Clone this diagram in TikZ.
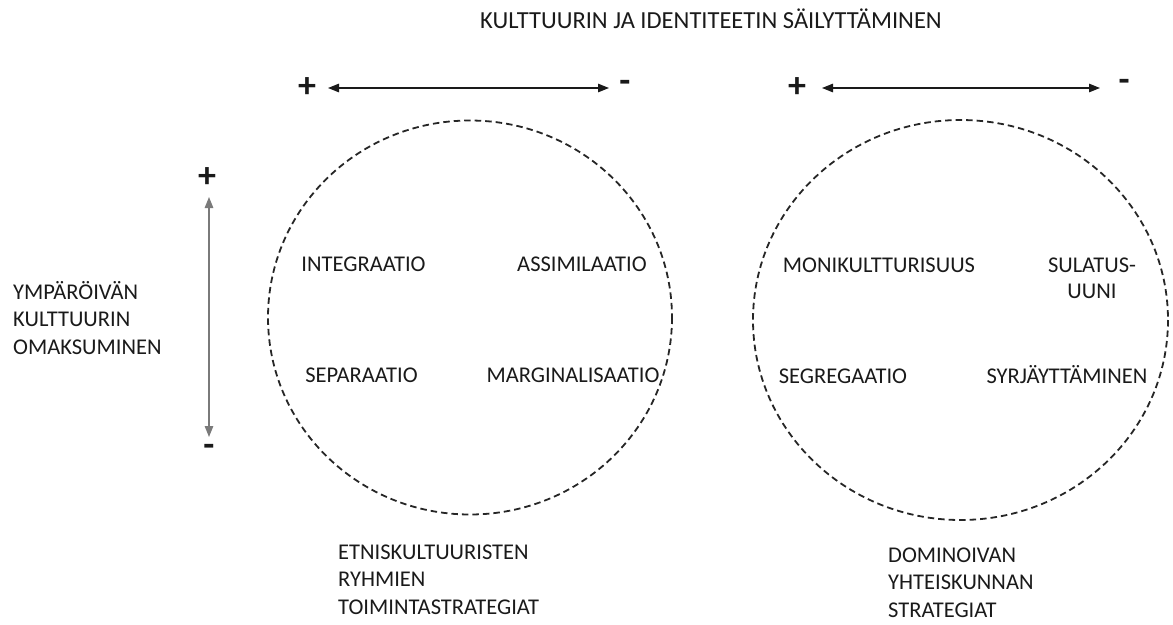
\documentclass[tikz,border=0pt]{standalone}
\usepackage{fontspec}
\setmainfont{Carlito}
\usepackage{tikz}
\usetikzlibrary{arrows.meta}
\definecolor{ink}{HTML}{1A1A1A}
\definecolor{rim}{HTML}{262626}
\definecolor{shaft}{HTML}{7A7A7A}
\tikzset{
  ring/.style={draw=rim, line width=1.8pt, dash pattern=on 6.5pt off 4pt},
  arr/.style={draw=ink, line width=1.2pt, {Triangle[length=11pt,width=8.5pt]}-{Triangle[length=11pt,width=8.5pt]}},
  lab/.style={text=ink, inner sep=0pt, font=\fontsize{22.5}{27.5}\selectfont},
  labl/.style={lab, align=left, anchor=base west},
  labc/.style={lab, anchor=base},
  sgn/.style={text=ink, inner sep=0pt, font=\fontsize{36}{36}\selectfont\bfseries},
  ttl/.style={text=ink, inner sep=0pt, anchor=base, font=\fontsize{24.5}{28}\selectfont},
}
\begin{document}
\begin{tikzpicture}[x=1pt,y=-1pt]
  \useasboundingbox (0,0) rectangle (1173,624);
  % two groups
  \coordinate (C1) at (470,317.5);
  \coordinate (C2) at (960.5,320);
  \draw[ring] (C1) ellipse [x radius=202, y radius=197];
  \draw[ring] (C2) ellipse [x radius=207.5, y radius=200];
  \node[ttl] (title) at (711,28) {KULTTUURIN JA IDENTITEETIN SÄILYTTÄMINEN};
  % scales
  \node[sgn] (plusA) at (307,88) {+};
  \node[sgn] (minusA) at (625,86) {-};
  \node[sgn] (plusB) at (797,88) {+};
  \node[sgn] (minusB) at (1124,85) {-};
  \node[sgn] (plusC) at (207,178) {+};
  \node[sgn] (minusC) at (209,450) {-};
  \coordinate (a1) at (328,88);
  \coordinate (a2) at (609,88);
  \coordinate (b1) at (822,88);
  \coordinate (b2) at (1100,88);
  \coordinate (c1) at (209,197);
  \coordinate (c2) at (209,437);
  \draw[arr] (a1) -- (a2);
  \draw[arr] (b1) -- (b2);
  \draw[arr, draw=shaft, fill=ink] (c1) -- (c2);
  \node[labl] (side) at (13,354) {YMPÄRÖIVÄN\\KULTTUURIN\\OMAKSUMINEN};
  % left circle
  \node[labc] (integ) at (363.5,271.5) {INTEGRAATIO};
  \node[labc] (assim) at (582,271.5) {ASSIMILAATIO};
  \node[labc] (separ) at (361.5,382.5) {SEPARAATIO};
  \node[labc] (margi) at (573,382.5) {MARGINALISAATIO};
  \node[labl] (etno) at (338,614) {ETNISKULTUURISTEN\\RYHMIEN\\TOIMINTASTRATEGIAT};
  % right circle
  \node[labc] (moni) at (879,272) {MONIKULTTURISUUS};
  \node[lab, align=center, anchor=base, font=\fontsize{22.5}{26}\selectfont] (sula) at (1092,298) {SULATUS-\\UUNI};
  \node[labc] (segre) at (843,383) {SEGREGAATIO};
  \node[labc] (syrja) at (1067,383) {SYRJÄYTTÄMINEN};
  \node[labl] (domi) at (888,617) {DOMINOIVAN\\YHTEISKUNNAN\\STRATEGIAT};
\end{tikzpicture}
\end{document}
